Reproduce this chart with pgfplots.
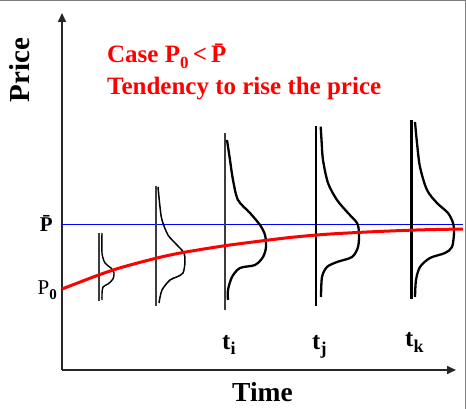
\documentclass[border=0pt]{standalone}
\usepackage{pgfplots}
\pgfplotsset{compat=1.18}
\usepackage{fontspec}
\setmainfont{Liberation Serif}
\usetikzlibrary{arrows.meta}
\definecolor{vline}{RGB}{60,60,60}
\begin{document}
\begin{tikzpicture}
\begin{axis}[
  scale only axis, width=394pt, height=357pt,
  xmin=0, xmax=394, ymin=0, ymax=357,
  axis lines=left,
  axis line style={line width=1.6pt, draw=black!85, -{Triangle[length=9pt,width=8pt]}},
  xtick=\empty, ytick=\empty,
  clip=false,
]
\coordinate (bl) at (axis cs:-62,-39);
\coordinate (tr) at (axis cs:404,370);
% frame
\draw[gray, line width=1.2pt] (axis cs:-62,369.3) -- (axis cs:403.3,369.3) -- (axis cs:403.3,-39);
% mean line
\addplot[blue, line width=1.5pt] coordinates {(0,145.5) (401,145.5)};
% vertical lines
\addplot[vline, line width=1.4pt] coordinates {(37,137) (37,69)};
\addplot[vline, line width=1.4pt] coordinates {(94,184) (94,64)};
\addplot[vline, line width=1.6pt] coordinates {(163,237) (163,60)};
\addplot[black, line width=2.4pt] coordinates {(254,244) (254,64)};
\addplot[black, line width=3.0pt] coordinates {(349,250) (349,71)};
% distribution curves
\addplot[black, line width=1.4pt, smooth] coordinates {(40,137) (40,117) (43,107) (49,102) (52,97) (51,91) (46,86) (41,83) (40,76) (40,70)};
\addplot[black, line width=1.5pt, smooth] coordinates {(96,183) (98,163) (100,150) (106,135) (115,125) (122,117) (123,108) (121,97) (114.7,93) (108,90) (100,80) (97,67)};
\addplot[black, line width=2.3pt, smooth] coordinates {(165,230) (168,210) (171,190) (176,170) (188,157) (198,145) (203,135) (204,123) (201,113) (193,105) (178,102) (170,93) (166,80) (166,70)};
\addplot[black, line width=2.3pt, smooth] coordinates {(258.7,243.3) (259.7,227) (261,210) (266,187) (275,170) (286,157) (295,147) (297,137) (296,123) (290,113) (275,108) (265,103) (260,93) (259,73)};
\addplot[black, line width=2.3pt, smooth] coordinates {(353,248) (355,227) (358,203) (365,180) (375,167) (386,157) (391,147) (392,137) (390,123) (383,117) (368,112) (358,103) (354,90) (353,73)};
% price path
\addplot[red, line width=3pt, smooth] coordinates {(0,81) (38,95.5) (61,103) (95,112) (121,117.5) (161,124) (195,128.5) (228,132.5) (261,135.5) (295,137.5) (328,139) (361,140.2) (401,141)};
% texts
\node[anchor=base west, text=red, font=\bfseries\fontsize{25}{25}\selectfont, inner sep=0pt] at (axis cs:45,307) {Case P\raisebox{-6pt}{\fontsize{17}{17}\selectfont 0}\,<\,\=P};
\node[anchor=base west, text=red, font=\bfseries\fontsize{25}{25}\selectfont, inner sep=0pt] at (axis cs:45,275) {Tendency to rise the price};
\node[anchor=base east, font=\bfseries\fontsize{21}{21}\selectfont, inner sep=0pt] at (axis cs:-9,138.5) {\=P};
\node[anchor=base east, font=\fontsize{21}{21}\selectfont, inner sep=0pt] at (axis cs:-5,75) {P\raisebox{-5pt}{\bfseries\fontsize{15}{15}\selectfont 0}};
\node[anchor=base west, font=\bfseries\fontsize{25}{25}\selectfont, inner sep=0pt] at (axis cs:160,20) {t\raisebox{-5pt}{\fontsize{18}{18}\selectfont i}};
\node[anchor=base west, font=\bfseries\fontsize{25}{25}\selectfont, inner sep=0pt] at (axis cs:250,20) {t\raisebox{-5pt}{\fontsize{18}{18}\selectfont j}};
\node[anchor=base west, font=\bfseries\fontsize{25}{25}\selectfont, inner sep=0pt] at (axis cs:343,23) {t\raisebox{-6pt}{\fontsize{18}{18}\selectfont k}};
\node[anchor=base, font=\bfseries\fontsize{27.5}{27.5}\selectfont, inner sep=0pt] at (axis cs:200.5,-32) {Time};
\node[anchor=base, rotate=90, font=\bfseries\fontsize{29}{29}\selectfont, inner sep=0pt] at (axis cs:-32,300) {Price};
\end{axis}
\pgfresetboundingbox
\path (bl) rectangle (tr);
\end{tikzpicture}
\end{document}
